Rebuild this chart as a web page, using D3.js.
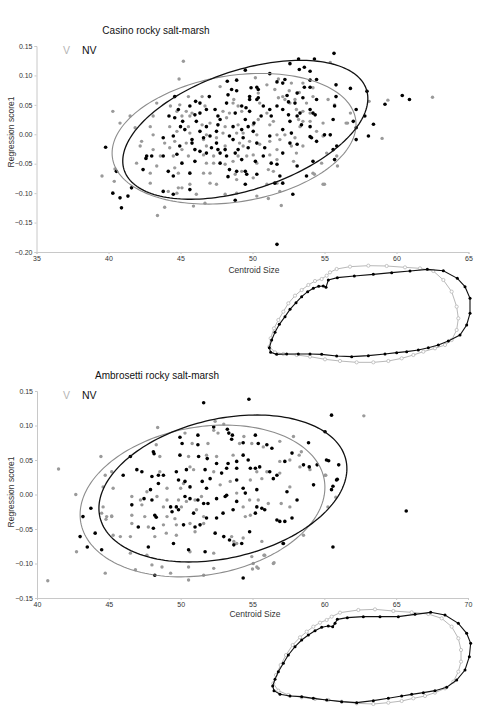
<!DOCTYPE html>
<html><head><meta charset="utf-8">
<script src="https://cdn.jsdelivr.net/npm/d3@7/dist/d3.min.js"></script>
<style>body{margin:0;background:#fff}svg{display:block;font-family:"Liberation Sans",Arial,sans-serif}</style>
</head><body><svg id="c" width="478" height="715"></svg>
<script>
// ---------- DATA ----------
const titles = ["Casino rocky salt-marsh", "Ambrosetti rocky salt-marsh"];
const groups = ["V", "NV"];
const casinoXTicks = [35, 40, 45, 50, 55, 60, 65];
const casinoYTicks = [-0.20, -0.15, -0.10, -0.05, 0.00, 0.05, 0.10, 0.15];
const ambroXTicks = [40, 45, 50, 55, 60, 65, 70];
const ambroYTicks = [-0.15, -0.10, -0.05, 0.00, 0.05, 0.10, 0.15];

const casinoNV = [[53.2,0.128],[54.3,0.128],[52.6,0.120],[53.6,0.114],[53.25,0.110],[54.0,0.107],[49.5,0.109],[51.2,0.103],[54.45,0.093],[48.25,0.090],[48.9,0.092],[52.25,0.093],[51.7,0.089],[52.1,0.087],[54.0,0.092],[50.3,0.080],[49.9,0.079],[48.55,0.076],[48.9,0.074],[50.4,0.076],[53.6,0.080],[54.0,0.080],[56.8,0.078],[55.8,0.084],[48.3,0.067],[49.8,0.064],[50.4,0.062],[52.4,0.066],[44.6,0.064],[47.0,0.064],[53.1,0.070],[55.8,0.064],[46.05,0.056],[46.35,0.053],[50.3,0.059],[49.8,0.059],[53.5,0.062],[54.45,0.059],[45.65,0.048],[48.2,0.053],[49.25,0.048],[49.55,0.045],[50.75,0.048],[51.7,0.048],[52.5,0.055],[52.95,0.053],[54.2,0.036],[55.7,0.048],[46.8,0.042],[47.4,0.042],[44.85,0.042],[46.35,0.036],[48.8,0.036],[49.8,0.039],[51.2,0.042],[52.1,0.042],[53.3,0.036],[54.0,0.042],[57.2,0.042],[44.2,0.031],[44.6,0.028],[46.0,0.033],[47.6,0.031],[50.6,0.031],[52.5,0.033],[53.1,0.031],[54.35,0.033],[57.8,0.031],[45.15,0.022],[46.1,0.022],[47.75,0.025],[49.5,0.025],[51.3,0.031],[52.6,0.022],[55.6,0.025],[57.0,0.022],[45.0,0.013],[46.8,0.013],[47.6,0.016],[48.65,0.013],[49.7,0.013],[50.1,0.019],[53.4,0.016],[54.0,0.013],[45.3,0.008],[46.35,0.005],[47.5,0.005],[49.25,0.008],[50.05,0.005],[52.1,0.008],[52.7,0.002],[55.0,-0.001],[55.4,-0.001],[57.2,0.011],[43.8,-0.006],[44.5,-0.003],[45.8,-0.009],[46.6,-0.006],[47.05,-0.003],[48.4,-0.003],[49.35,-0.006],[51.2,-0.003],[54.0,-0.004],[54.1,-0.006],[58.05,-0.003],[44.95,-0.020],[45.8,-0.015],[47.5,-0.015],[48.65,-0.009],[50.3,-0.015],[52.6,-0.015],[53.1,-0.017],[54.45,-0.012],[57.2,-0.009],[46.0,-0.026],[46.35,-0.029],[47.15,-0.023],[47.6,-0.026],[48.1,-0.026],[49.0,-0.026],[49.7,-0.023],[50.85,-0.023],[55.85,-0.020],[42.65,-0.037],[43.0,-0.037],[43.8,-0.037],[44.75,-0.034],[46.8,-0.032],[47.75,-0.032],[48.2,-0.037],[48.8,-0.032],[50.75,-0.037],[52.1,-0.032],[55.6,-0.026],[45.1,-0.049],[46.0,-0.046],[47.75,-0.049],[49.25,-0.043],[50.2,-0.046],[51.3,-0.049],[51.7,-0.051],[54.2,-0.046],[55.7,-0.043],[42.4,-0.060],[44.15,-0.063],[45.65,-0.066],[48.4,-0.060],[48.9,-0.063],[49.5,-0.063],[53.1,-0.054],[44.5,-0.071],[48.3,-0.072],[49.6,-0.068],[50.3,-0.068],[51.9,-0.071],[53.75,-0.071],[40.55,-0.063],[49.5,-0.085],[51.55,-0.083],[52.1,-0.083],[41.6,-0.091],[43.8,-0.097],[45.65,-0.094],[44.5,-0.102],[52.8,-0.102],[48.8,-0.112],[40.3,-0.100],[41.35,-0.105],[40.8,-0.108],[40.9,-0.125],[39.8,-0.022],[42.6,-0.041],[55.66,0.1375],[60.4,0.066],[60.9,0.059],[59.2,0.051],[57.95,0.073],[58.4,0.017],[51.7,-0.187]];

const casinoV = [[45.2,0.124],[55.4,0.122],[44.9,0.094],[50.2,0.096],[51.8,0.094],[52.7,0.087],[53.5,0.087],[47.75,0.081],[51.0,0.084],[51.55,0.076],[52.55,0.074],[53.25,0.071],[54.2,0.079],[45.55,0.064],[46.5,0.064],[48.7,0.059],[50.4,0.070],[52.1,0.064],[52.95,0.059],[51.8,0.062],[54.2,0.064],[55.7,0.050],[43.35,0.053],[44.3,0.048],[44.95,0.050],[46.7,0.048],[48.65,0.053],[49.0,0.048],[50.5,0.053],[52.25,0.059],[52.6,0.053],[53.75,0.053],[55.25,0.059],[44.75,0.039],[45.4,0.039],[45.8,0.036],[47.95,0.039],[48.4,0.036],[49.25,0.039],[51.0,0.036],[53.05,0.042],[53.5,0.039],[54.0,0.036],[56.8,0.036],[40.3,0.039],[41.5,0.031],[43.1,0.031],[45.1,0.031],[45.65,0.031],[48.2,0.028],[50.4,0.025],[51.45,0.022],[53.2,0.025],[53.5,0.022],[54.0,0.022],[40.8,0.019],[42.9,0.013],[44.25,0.013],[45.55,0.013],[46.5,0.016],[47.05,0.019],[48.1,0.013],[49.0,0.016],[50.05,0.016],[51.2,0.016],[53.3,0.013],[54.9,0.019],[41.85,0.011],[43.1,-0.001],[44.75,0.005],[45.65,0.002],[46.8,-0.001],[47.95,0.002],[48.9,0.002],[49.35,0.002],[50.3,-0.001],[51.7,-0.001],[52.25,-0.001],[54.45,0.005],[56.5,0.019],[42.3,-0.012],[43.9,-0.015],[44.6,-0.012],[45.4,-0.015],[46.6,-0.009],[47.5,-0.006],[49.1,-0.015],[49.8,-0.012],[51.2,-0.012],[51.9,-0.009],[52.95,-0.006],[54.9,-0.003],[42.2,-0.020],[43.1,-0.026],[44.25,-0.023],[45.1,-0.026],[46.8,-0.020],[48.1,-0.020],[49.35,-0.020],[50.5,-0.017],[51.7,-0.026],[52.7,-0.020],[53.5,-0.020],[43.6,-0.037],[44.5,-0.037],[45.55,-0.037],[46.6,-0.035],[47.3,-0.037],[49.0,-0.037],[49.6,-0.037],[50.05,-0.035],[51.2,-0.035],[53.05,-0.032],[55.15,-0.032],[55.85,-0.037],[41.95,-0.049],[43.35,-0.054],[44.6,-0.057],[46.8,-0.049],[47.3,-0.049],[48.1,-0.051],[48.65,-0.046],[50.3,-0.049],[51.7,-0.043],[52.85,-0.046],[54.8,-0.049],[42.9,-0.066],[44.85,-0.066],[46.6,-0.066],[47.05,-0.066],[48.8,-0.068],[49.25,-0.063],[51.1,-0.060],[51.45,-0.063],[54.2,-0.066],[42.9,-0.083],[44.85,-0.091],[45.1,-0.091],[45.65,-0.085],[47.05,-0.083],[47.5,-0.085],[48.9,-0.077],[50.05,-0.074],[51.0,-0.085],[51.7,-0.083],[54.9,-0.085],[44.15,-0.097],[44.75,-0.100],[46.1,-0.102],[48.1,-0.102],[48.9,-0.100],[50.3,-0.105],[51.9,-0.097],[43.4,-0.138],[45.9,-0.122],[46.7,-0.117],[39.55,-0.071],[40.4,-0.080],[40.45,-0.059],[43.9,-0.124],[62.5,0.063],[59.4,0.058],[58.1,0.056],[56.6,0.019],[59.0,-0.007],[55.9,-0.054],[55.0,-0.085],[52.0,-0.121],[51.1,-0.109],[54.3,-0.068]];

const ambroNV = [[51.6,0.133],[54.75,0.138],[60.5,0.115],[60.05,0.091],[52.3,0.098],[53.25,0.0945],[53.35,0.089],[53.6,0.086],[53.55,0.080],[55.2,0.086],[49.95,0.083],[51.2,0.086],[51.2,0.072],[50.1,0.074],[54.35,0.075],[55.4,0.074],[56.0,0.072],[56.35,0.067],[58.9,0.075],[48.1,0.062],[48.15,0.059],[49.95,0.057],[51.25,0.055],[51.85,0.052],[54.35,0.057],[57.75,0.060],[46.5,0.055],[60.15,0.050],[60.3,0.049],[61.0,0.043],[52.5,0.045],[53.3,0.045],[53.9,0.048],[54.7,0.050],[57.25,0.048],[58.55,0.043],[59.5,0.043],[46.95,0.036],[47.3,0.033],[46.0,0.028],[50.4,0.036],[49.7,0.033],[51.7,0.036],[52.85,0.031],[53.2,0.038],[53.9,0.038],[54.85,0.038],[55.2,0.038],[55.5,0.040],[56.2,0.033],[56.7,0.028],[58.95,0.040],[48.0,0.026],[48.45,0.028],[48.8,0.028],[49.85,0.021],[50.3,0.019],[51.5,0.019],[52.05,0.023],[53.9,0.021],[56.45,0.023],[54.35,0.009],[48.45,0.016],[47.9,0.007],[50.65,0.011],[51.8,0.009],[53.2,-0.001],[54.5,0.002],[55.3,0.007],[57.4,0.004],[59.25,0.014],[60.85,0.021],[60.5,0.007],[47.45,-0.006],[48.0,-0.008],[46.6,-0.015],[49.3,-0.018],[49.7,-0.018],[50.3,-0.003],[50.65,-0.006],[51.2,-0.008],[51.6,-0.013],[51.9,-0.013],[52.5,-0.006],[53.1,-0.003],[53.9,-0.010],[55.3,-0.018],[55.65,-0.020],[55.85,-0.022],[58.1,-0.008],[48.2,-0.030],[48.3,-0.033],[49.4,-0.025],[49.85,-0.022],[50.9,-0.027],[51.8,-0.034],[52.5,-0.034],[52.95,-0.027],[53.65,-0.022],[55.2,-0.027],[56.7,-0.037],[56.9,-0.039],[57.25,-0.039],[57.75,-0.034],[47.05,-0.047],[48.1,-0.049],[50.2,-0.044],[51.0,-0.047],[51.35,-0.044],[43.75,-0.020],[43.2,-0.032],[44.05,-0.056],[43.0,-0.061],[43.5,-0.076],[44.5,-0.080],[47.75,-0.076],[49.5,-0.071],[50.55,-0.080],[51.7,-0.083],[52.4,-0.056],[53.0,-0.061],[53.4,-0.066],[54.25,-0.071],[53.7,-0.073],[54.8,-0.054],[57.15,-0.071],[60.6,-0.076],[48.2,-0.117],[54.35,-0.121],[65.7,-0.024],[60.9,0.022],[60.6,0.012]];

const ambroV = [[52.4,0.106],[53.0,0.102],[48.4,0.097],[52.3,0.093],[52.6,0.089],[50.3,0.089],[54.4,0.084],[57.85,0.084],[48.3,0.072],[50.8,0.074],[51.9,0.074],[54.95,0.074],[54.1,0.074],[55.75,0.069],[56.9,0.077],[58.4,0.062],[58.25,0.057],[44.45,0.055],[48.55,0.055],[50.55,0.055],[51.8,0.057],[52.5,0.055],[53.65,0.057],[56.9,0.048],[57.6,0.050],[58.3,0.040],[44.75,0.028],[45.2,0.033],[48.55,0.033],[50.9,0.036],[50.65,0.040],[52.3,0.033],[56.0,0.033],[56.9,0.031],[55.3,0.033],[44.6,0.011],[45.3,0.009],[47.65,0.004],[49.05,0.009],[50.0,0.009],[50.2,0.016],[52.75,0.014],[53.45,0.019],[54.85,0.021],[55.65,0.023],[57.6,0.011],[59.0,0.036],[60.05,0.028],[42.7,0.0],[46.6,-0.003],[47.2,-0.008],[48.35,-0.003],[49.05,-0.008],[49.85,-0.008],[50.4,-0.010],[51.0,-0.008],[51.45,-0.003],[53.9,0.002],[54.8,-0.008],[56.1,-0.013],[57.0,-0.013],[44.6,-0.018],[47.3,-0.015],[48.8,-0.018],[50.05,-0.018],[51.1,-0.022],[54.35,-0.018],[55.4,-0.008],[57.6,-0.018],[44.85,-0.032],[45.2,-0.032],[46.6,-0.030],[47.5,-0.032],[49.05,-0.032],[49.6,-0.035],[51.6,-0.032],[54.5,-0.032],[54.85,-0.030],[46.6,-0.042],[47.75,-0.047],[48.8,-0.044],[49.7,-0.044],[50.65,-0.042],[51.6,-0.042],[45.3,-0.059],[45.8,-0.061],[46.5,-0.061],[48.2,-0.061],[49.0,-0.056],[49.7,-0.059],[51.0,-0.054],[53.55,-0.061],[54.35,-0.063],[55.65,-0.068],[53.7,-0.068],[53.9,-0.071],[58.55,-0.059],[42.75,-0.083],[46.5,-0.085],[47.65,-0.088],[50.65,-0.083],[52.3,-0.085],[54.95,-0.090],[55.85,-0.088],[48.0,-0.102],[48.7,-0.105],[50.55,-0.105],[52.3,-0.107],[55.05,-0.100],[55.4,-0.107],[56.45,-0.100],[44.75,-0.114],[46.85,-0.109],[49.3,-0.114],[51.6,-0.117],[50.55,-0.124],[41.5,0.037],[40.75,-0.125],[62.75,0.114],[60.1,0.028],[60.8,-0.004],[60.25,-0.018],[56.5,-0.099],[55.0,-0.108],[55.3,-0.105],[55.8,-0.088],[57.1,-0.071],[44.5,-0.027],[44.8,-0.036],[45.2,-0.031]];

// confidence ellipses: centre, half-ranges in x / y, correlation
const casinoEllV = {cx:48.72, cy:-0.0076, ex:8.47, ey:0.111, r:0.22};
const casinoEllNV = {cx:49.5, cy:0.0076, ex:8.51, ey:0.118, r:0.45};
const ambroEllV = {cx:51.52, cy:-0.0094, ex:8.52, ey:0.110, r:0.18};
const ambroEllNV = {cx:52.94, cy:0.0087, ex:8.63, ey:0.1065, r:0.27};

// outline (landmark) shapes, arbitrary outline units
const casinoShapeNV = [[235,75],[262,68],[313,63],[370,58],[425,53],[480,48],[532,43],[580,47],[622,70],[645,95],[660,130],[660,175],[650,210],[630,240],[595,258],[565,270],[535,278],[505,285],[470,290],[440,293],[405,297],[355,302],[305,305],[260,303],[215,298],[180,297],[145,297],[110,297],[80,298],[62,292],[58,278],[65,255],[75,232],[88,208],[105,185],[120,163],[138,143],[155,125],[173,110],[190,100],[206,94],[220,93],[228,97]];
const casinoShapeV = [[240,52],[260,42],[300,35],[355,32],[410,33],[465,37],[510,40],[550,48],[580,75],[605,110],[620,155],[625,190],[620,225],[605,255],[585,270],[555,280],[520,290],[490,300],[455,310],[415,318],[370,322],[320,322],[270,318],[225,313],[180,305],[140,300],[100,297],[75,292],[58,275],[62,250],[72,220],[85,195],[100,170],[115,145],[135,122],[155,105],[175,90],[195,78],[215,72],[230,62]];
const ambroShapeNV = [[232,58],[262,53],[310,50],[360,50],[415,50],[465,43],[512,37],[555,45],[595,70],[620,100],[632,130],[628,170],[615,210],[590,240],[560,262],[525,272],[490,278],[455,283],[425,288],[385,295],[340,302],[290,308],[245,305],[200,300],[160,295],[125,290],[90,288],[60,283],[42,272],[38,258],[45,238],[55,215],[70,190],[85,165],[105,140],[125,120],[145,105],[165,92],[185,82],[205,78],[218,80],[225,70]];
const ambroShapeV = [[240,38],[295,30],[345,28],[400,33],[455,37],[505,42],[545,55],[575,80],[595,115],[603,150],[603,185],[595,215],[580,245],[555,265],[525,278],[495,288],[460,295],[425,303],[385,308],[340,312],[290,310],[245,305],[205,300],[165,297],[125,292],[85,285],[55,272],[40,250],[48,225],[62,195],[78,165],[98,135],[120,112],[140,95],[160,80],[180,68],[200,60],[215,50]];

// ---------- DRAW ----------
const svg = d3.select("#c");
const GRAY = "#9a9a9a", AXIS = "#c8c8c8", TXT = "#333";

function ellipsePts(e) {
  const pts = [], s = Math.sqrt(1 - e.r * e.r);
  for (let i = 0; i <= 180; i++) {
    const t = i / 180 * 2 * Math.PI;
    pts.push([e.cx + e.ex * Math.cos(t), e.cy + e.ey * (e.r * Math.cos(t) + s * Math.sin(t))]);
  }
  return pts;
}

function panel(o) {
  const g = svg.append("g");
  const x = d3.scaleLinear().domain(o.xd).range(o.xr);
  const y = d3.scaleLinear().domain(o.yd).range(o.yr);
  // axes
  const xa = g.append("g").attr("transform", `translate(0,${o.yr[0]})`)
    .call(d3.axisBottom(x).tickValues(o.xt).tickSize(2).tickPadding(2).tickFormat(d3.format("d")));
  const ya = g.append("g").attr("transform", `translate(${o.xr[0]},0)`)
    .call(d3.axisLeft(y).tickValues(o.yt).tickSize(2).tickPadding(2).tickFormat(d3.format(".2f")));
  [xa, ya].forEach(a => {
    a.select(".domain").attr("stroke", AXIS);
    a.selectAll(".tick line").attr("stroke", AXIS);
    a.selectAll("text").attr("fill", TXT).style("font-size", "7px");
  });
  // title, legend, labels
  g.append("text").attr("x", o.titleX).attr("y", o.titleY).attr("text-anchor", "middle")
    .style("font-size", "10px").attr("fill", "#111").text(o.title);
  g.append("text").attr("x", 63).attr("y", o.legY).style("font-size", "10.5px").attr("fill", "#b5b5b5").text(groups[0]);
  g.append("text").attr("x", 82).attr("y", o.legY).style("font-size", "10.5px").attr("fill", "#111").text(groups[1]);
  g.append("text").attr("transform", `translate(14,${o.ylabY}) rotate(-90)`).attr("text-anchor", "middle")
    .style("font-size", "8.5px").attr("fill", TXT).text("Regression score1");
  g.append("text").attr("x", o.xlabX).attr("y", o.xlabY).attr("text-anchor", "middle")
    .style("font-size", "8.5px").attr("fill", TXT).text("Centroid Size");
  // points
  g.append("g").selectAll("circle").data(o.V).join("circle")
    .attr("cx", d => x(d[0])).attr("cy", d => y(d[1])).attr("r", 1.7).attr("fill", GRAY);
  g.append("g").selectAll("circle").data(o.NV).join("circle")
    .attr("cx", d => x(d[0])).attr("cy", d => y(d[1])).attr("r", 1.8).attr("fill", "#000");
  // ellipses
  const line = d3.line().x(d => x(d[0])).y(d => y(d[1])).curve(d3.curveLinearClosed);
  g.append("path").attr("d", line(ellipsePts(o.eV))).attr("fill", "none").attr("stroke", "#8c8c8c").attr("stroke-width", 1.1);
  g.append("path").attr("d", line(ellipsePts(o.eNV))).attr("fill", "none").attr("stroke", "#111").attr("stroke-width", 1.3);
  // inset outline
  const sx = d3.scaleLinear().domain([0, 714]).range(o.ix);
  const sy = d3.scaleLinear().domain([0, 345]).range(o.iy);
  const sl = d3.line().x(d => sx(d[0])).y(d => sy(d[1])).curve(d3.curveLinearClosed);
  const ig = g.append("g");
  ig.append("path").attr("d", sl(o.sV)).attr("fill", "none").attr("stroke", "#b8b8b8").attr("stroke-width", 1);
  ig.append("g").selectAll("circle").data(o.sV).join("circle")
    .attr("cx", d => sx(d[0])).attr("cy", d => sy(d[1])).attr("r", 1.6)
    .attr("fill", "#fff").attr("stroke", "#b8b8b8").attr("stroke-width", 0.8);
  ig.append("path").attr("d", sl(o.sNV)).attr("fill", "none").attr("stroke", "#111").attr("stroke-width", 1.1);
  ig.append("g").selectAll("circle").data(o.sNV).join("circle")
    .attr("cx", d => sx(d[0])).attr("cy", d => sy(d[1])).attr("r", 1.5).attr("fill", "#000");
}

panel({title: titles[0], titleX: 156, titleY: 34, legY: 54, ylabY: 132, xlabX: 254, xlabY: 273,
  xd: [35, 65], xr: [36.5, 468.5], yd: [-0.20, 0.15], yr: [252, 46], xt: casinoXTicks, yt: casinoYTicks,
  V: casinoV, NV: casinoNV, eV: casinoEllV, eNV: casinoEllNV,
  sV: casinoShapeV, sNV: casinoShapeNV, ix: [250, 488], iy: [255, 370]});
panel({title: titles[1], titleX: 157, titleY: 379, legY: 399, ylabY: 492, xlabX: 255, xlabY: 617,
  xd: [40, 70], xr: [37, 468], yd: [-0.15, 0.15], yr: [598, 391], xt: ambroXTicks, yt: ambroYTicks,
  V: ambroV, NV: ambroNV, eV: ambroEllV, eNV: ambroEllNV,
  sV: ambroShapeV, sNV: ambroShapeNV, ix: [260, 498], iy: [600, 715]});
</script></body></html>
